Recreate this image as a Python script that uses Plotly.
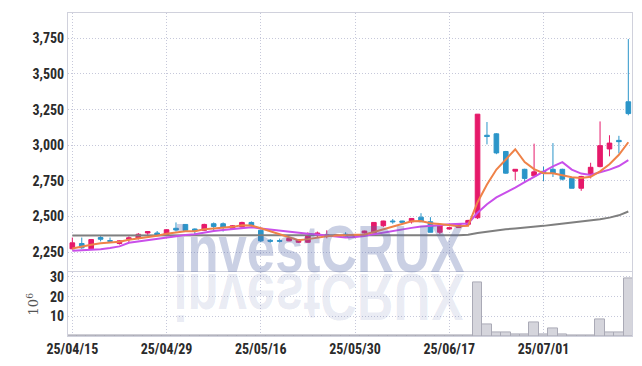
import plotly.graph_objects as go

dates = ["25/04/15","25/04/16","25/04/17","25/04/18","25/04/21","25/04/22","25/04/23","25/04/24","25/04/25","25/04/28",
         "25/04/29","25/04/30","25/05/02","25/05/07","25/05/08","25/05/09","25/05/12","25/05/13","25/05/14","25/05/15",
         "25/05/16","25/05/19","25/05/20","25/05/21","25/05/22","25/05/23","25/05/26","25/05/27","25/05/28","25/05/29",
         "25/05/30","25/06/02","25/06/04","25/06/05","25/06/09","25/06/10","25/06/11","25/06/12","25/06/13","25/06/16",
         "25/06/17","25/06/18","25/06/19","25/06/20","25/06/23","25/06/24","25/06/25","25/06/26","25/06/27","25/06/30",
         "25/07/01","25/07/02","25/07/03","25/07/04","25/07/07","25/07/08","25/07/09","25/07/10","25/07/11","25/07/14"]

open_ = [2273,2310,2273,2352,2331,2310,2340,2347,2384,2384,
         2366,2417,2444,2412,2403,2449,2449,2417,2426,2458,
         2403,2333,2331,2329,2319,2319,2366,2361,2361,2375,
         2361,2384,2384,2435,2468,2468,2463,2495,2463,2389,
         2412,2422,2445,2491,3070,3080,2956,2818,2831,2785,
         2817,2831,2831,2767,2698,2795,2850,2974,3034,3305]
high = [2352,2352,2342,2362,2352,2333,2361,2384,2396,2398,
        2410,2458,2447,2416,2449,2458,2458,2440,2463,2465,
        2405,2342,2345,2350,2340,2389,2394,2403,2375,2389,
        2378,2400,2460,2470,2482,2470,2488,2523,2495,2442,
        2425,2452,2477,3218,3163,3085,2960,2831,2835,3011,
        2850,3015,2835,2770,2785,2877,3167,3070,3066,3745]
low = [2268,2273,2270,2325,2314,2303,2320,2338,2362,2366,
       2362,2394,2400,2366,2400,2394,2394,2412,2422,2426,
       2320,2316,2318,2326,2314,2315,2352,2347,2356,2352,
       2356,2380,2382,2426,2449,2455,2450,2463,2389,2375,
       2408,2420,2440,2482,3006,2937,2800,2753,2735,2785,
       2749,2777,2753,2698,2680,2767,2845,2922,2942,3210]
close = [2315,2280,2338,2340,2326,2329,2350,2375,2394,2370,
         2407,2405,2403,2398,2444,2430,2426,2435,2458,2435,
         2329,2326,2326,2347,2338,2366,2384,2370,2370,2361,
         2370,2398,2458,2468,2463,2459,2486,2463,2389,2440,
         2421,2448,2472,3218,3061,2946,2804,2831,2767,2813,
         2804,2804,2762,2698,2781,2845,2997,3015,3025,3222]

ma5 = [2275,2290,2302,2312,2319,2322,2336,2344,2355,2364,
       2379,2390,2396,2397,2411,2416,2420,2427,2439,2437,
       2417,2397,2375,2353,2333,2341,2352,2361,2366,2370,
       2371,2374,2391,2411,2431,2449,2467,2468,2452,2447,
       2440,2432,2434,2600,2724,2829,2900,2972,2882,2832,
       2804,2804,2790,2776,2770,2778,2817,2867,2933,3021]
ma10 = [2260,2262,2266,2270,2278,2290,2315,2325,2333,2341,
        2351,2363,2370,2376,2388,2398,2405,2411,2418,2424,
        2416,2408,2401,2396,2385,2379,2374,2368,2359,2352,
        2356,2363,2376,2388,2401,2410,2420,2430,2432,2439,
        2445,2450,2451,2526,2586,2634,2666,2703,2741,2778,
        2816,2852,2881,2829,2801,2791,2810,2829,2854,2895]
ma_long = [2367,2367,2366,2366,2366,2366,2365,2365,2365,2365,
           2365,2365,2365,2365,2365,2365,2365,2365,2365,2365,
           2364,2364,2364,2363,2363,2363,2363,2363,2363,2363,
           2363,2363,2363,2364,2364,2364,2365,2366,2366,2367,
           2368,2369,2372,2384,2394,2404,2410,2416,2421,2427,
           2434,2442,2449,2456,2463,2470,2480,2492,2508,2535]

volume = [0.15,0.15,0.15,0.15,0.15,0.15,0.15,0.15,0.15,0.15,
          0.15,0.15,0.15,0.15,0.15,0.15,0.15,0.15,0.15,0.15,
          0.15,0.15,0.15,0.15,0.15,0.15,0.15,0.15,0.15,0.15,
          0.15,0.15,0.15,0.15,0.15,0.15,0.15,0.15,0.15,0.15,
          0.15,0.2,0.4,27.2,6.0,2.0,2.0,1.0,1.0,6.7,
          1.0,4.0,1.0,0.3,0.3,0.3,8.5,2.0,1.7,29.5]

price_ticks = [2250, 2500, 2750, 3000, 3250, 3500, 3750]
vol_ticks = [10, 20, 30]
x_tick_dates = ["25/04/15", "25/04/29", "25/05/16", "25/05/30", "25/06/17", "25/07/01"]

UP = "#E6196A"
DOWN = "#2B95C9"
GRID = "#C6C8DA"
FRAME = "#D0D1DC"
COND = "Roboto Condensed, Noto Sans Condensed, DejaVu Sans Condensed, Liberation Sans Narrow, Arial Narrow, Liberation Sans, sans-serif"
TICKFONT = dict(family=COND, size=14, color="#2b2b2b", weight="bold")

fig = go.Figure()
fig.add_trace(go.Candlestick(
    x=dates, open=open_, high=high, low=low, close=close,
    increasing=dict(line=dict(color=UP, width=1), fillcolor=UP),
    decreasing=dict(line=dict(color=DOWN, width=1), fillcolor=DOWN),
    xaxis="x", yaxis="y", showlegend=False, name="price"))
fig.add_trace(go.Scatter(x=dates, y=ma_long, mode="lines", line=dict(color="#7f7f7f", width=2),
                         xaxis="x", yaxis="y", showlegend=False))
fig.add_trace(go.Scatter(x=dates, y=ma10, mode="lines", line=dict(color="#C94FEA", width=2),
                         xaxis="x", yaxis="y", showlegend=False))
fig.add_trace(go.Scatter(x=dates, y=ma5, mode="lines", line=dict(color="#EF8248", width=2),
                         xaxis="x", yaxis="y", showlegend=False))
fig.add_trace(go.Bar(x=dates, y=volume, marker=dict(color="#D5D5DC", line=dict(color="#AAAAB6", width=1)),
                     xaxis="x2", yaxis="y2", showlegend=False))

xcommon = dict(type="category", range=[-0.46, 59.39], showgrid=True, gridcolor=GRID, griddash="1px,2px",
               gridwidth=1, tickmode="array", tickvals=x_tick_dates, ticktext=x_tick_dates,
               showline=True, linecolor=FRAME, linewidth=1, mirror=True, ticks="", zeroline=False)

fig.update_layout(
    width=642, height=366,
    margin=dict(l=68, r=9, t=9, b=29),
    paper_bgcolor="white", plot_bgcolor="white",
    bargap=0.0,
    xaxis=dict(**xcommon, anchor="y", showticklabels=False, rangeslider=dict(visible=False), matches="x2"),
    xaxis2=dict(**xcommon, anchor="y2", showticklabels=True, tickfont=TICKFONT),
    yaxis=dict(domain=[0.202, 1.0], range=[2119, 3928], tickvals=price_ticks, tickformat=",",
               showgrid=True, gridcolor=GRID, griddash="1px,2px", gridwidth=1, tickfont=TICKFONT,
               showline=True, linecolor=FRAME, linewidth=1, mirror=True, ticks="", zeroline=False),
    yaxis2=dict(domain=[0.0, 0.1968], range=[0, 32.3], tickvals=vol_ticks,
                showgrid=True, gridcolor=GRID, griddash="1px,2px", gridwidth=1, tickfont=TICKFONT,
                showline=True, linecolor=FRAME, linewidth=1, mirror=True, ticks="", zeroline=False,
                title=dict(text="10<sup>6</sup>", font=dict(family="DejaVu Serif", size=13, color="#555555"),
                           standoff=8)),
    annotations=[
        dict(text="investCRUX", xref="paper", yref="paper", x=0.445, y=0.268, xanchor="center", yanchor="middle",
             showarrow=False, font=dict(family="Liberation Sans", size=66, weight="bold",
                                        color="rgba(90,110,170,0.32)")),
        dict(text="investCRUX", xref="paper", yref="paper", x=0.445, y=0.122, xanchor="center", yanchor="middle",
             showarrow=False, font=dict(family="Liberation Sans", size=66, weight="bold",
                                        color="rgba(90,110,170,0.14)")),
    ],
)

post = """
document.body.style.margin = '0';
var t = document.querySelectorAll('.annotation-text');
for (var k = 0; k < t.length; k++) {
  var e = t[k];
  e.style.transformBox = 'fill-box';
  e.style.transformOrigin = 'center';
  e.style.transform = (k === 1) ? 'scale(0.77,-1)' : 'scale(0.77,1)';
}
"""
fig.write_html("out.html", post_script=post, config={"displayModeBar": False})
